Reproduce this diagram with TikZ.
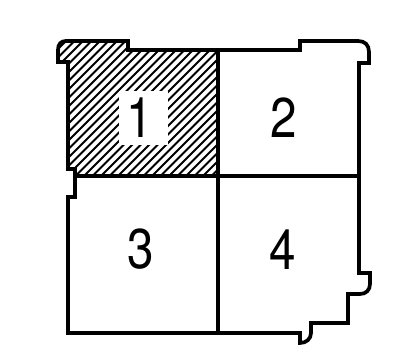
\documentclass[tikz,border=0pt]{standalone}
\usepackage{fontspec}
\newfontfamily\numfont[FakeStretch=0.85]{TeX Gyre Heros}
\begin{document}
\begin{tikzpicture}[
  x=1pt, y=-1pt,
  wall/.style={draw=black, line width=3.7pt, line join=miter},
  inner/.style={draw=black, line width=3.2pt},
  hatch/.style={draw=black, line width=1.8pt},
  num/.style={font=\numfont\fontsize{56}{56}\selectfont, inner sep=0pt},
  numbox/.style={fill=white, inner sep=0pt, minimum width=49pt, minimum height=54pt}
]
\useasboundingbox (0,0) rectangle (416,345);

% room 1 hatching
\begin{scope}
  \clip (58,62) -- (58,50) .. controls (58,44) and (61,41) .. (66,41) -- (128,41) -- (128,50)
        -- (218,50) -- (218,176) -- (75,176) -- (75,169) -- (68,169) -- (68,62) -- cycle;
  \foreach \c in {98.5,107,...,400} {
    \draw[hatch] (\c,0) -- (0,\c);
  }
\end{scope}

\node[numbox] (b1) at (143.5,118) {};
\node[num] (n1) at (140,118) {1};
\node[num] (n2) at (284,118) {2};
\node[num] (n3) at (141,249) {3};
\node[num] (n4) at (283,250) {4};

% outline
\draw[wall] (68,169) -- (68,62) -- (58,62) -- (58,50)
  .. controls (58,44) and (61,41) .. (66,41) -- (128,41) -- (128,50)
  -- (300,50) -- (300,41) -- (358,41)
  .. controls (365,41) and (369,45) .. (369,52) -- (369,63) -- (359,63)
  -- (359,273) -- (370,273) -- (370,284)
  .. controls (370,290) and (366,294) .. (360,294) -- (348,294) -- (348,323)
  -- (311,323) -- (311,333) .. controls (311,339) and (306,343) .. (300,343)
  -- (300,333) -- (68,333) -- (68,197) -- (75,197) -- (75,169) -- cycle;

% dividers
\coordinate (top) at (218,50);
\coordinate (bot) at (218,333);
\coordinate (lft) at (75,176);
\coordinate (rgt) at (359,176);
\draw[inner] (top) -- (bot);
\draw[inner] (lft) -- (rgt);
\end{tikzpicture}
\end{document}
